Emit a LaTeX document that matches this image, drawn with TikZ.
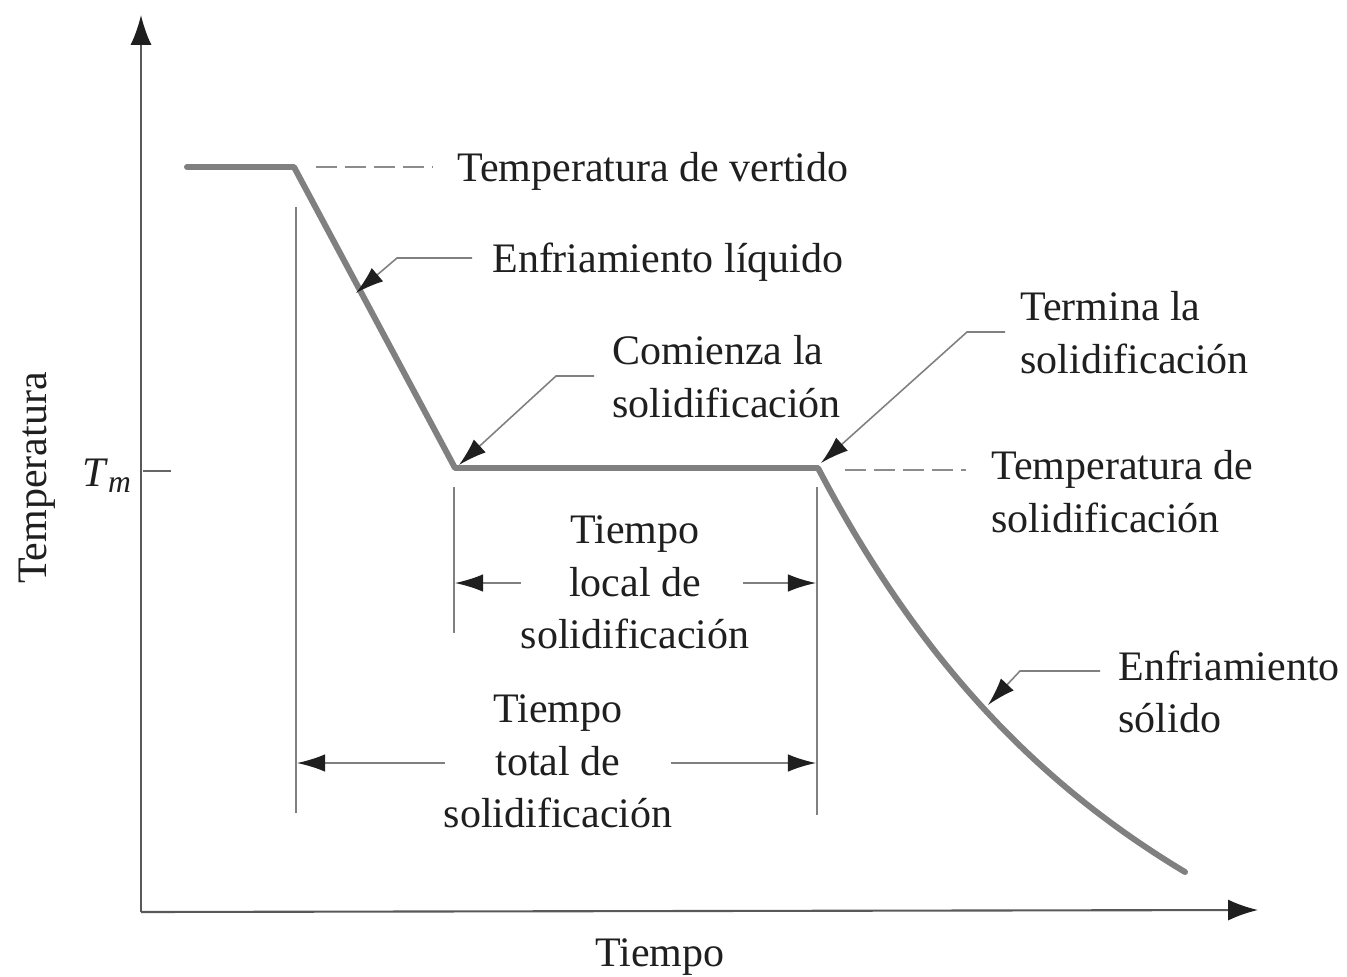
\documentclass[tikz,border=0pt]{standalone}
\usepackage{fontspec}
\setmainfont{Liberation Serif}
\usetikzlibrary{arrows.meta}
\begin{document}
\begin{tikzpicture}[x=0.02cm,y=-0.02cm,
  lbl/.style={inner sep=0pt, font=\fontsize{23.9}{29.6}\selectfont, text=black!88},
  curve/.style={line width=3.4pt, draw=black!50, line cap=round, line join=round},
  thin/.style={line width=0.9pt, draw=black!50},
  dsh/.style={thin, draw=black!45, dash pattern=on 12pt off 4.5pt},
  lead/.style={thin, -{Latex[length=16pt,width=10pt,color=black!88]}},
  dim/.style={thin, -{Latex[length=16pt,width=10pt,color=black!88]}},
  axis/.style={line width=1.2pt, draw=black!65, -{Latex[length=17pt,width=12pt,color=black!88]}},
]
\useasboundingbox (0,0) rectangle (1347,977);

% axes
\coordinate (O) at (141,912);
\coordinate (Ytop) at (141,15);
\coordinate (Xend) at (1258,910);
\draw[axis] (O) -- (Ytop);
\draw[axis] (O) -- (Xend);
\coordinate (tmA) at (143,471);
\coordinate (tmB) at (171,471);
\draw[line width=1.1pt, draw=black!60] (tmA) -- (tmB);

\node[lbl, rotate=90, anchor=base] (ylab) at (47,478) {Temperatura};
\node[lbl, anchor=base] (xlab) at (660,966) {Tiempo};
\node[lbl, anchor=base west] (tm) at (82,486) {\textit{T}\raisebox{-0.35ex}{\fontsize{18}{18}\selectfont\textit{m}}};

% cooling curve
\coordinate (c0) at (187,167);
\coordinate (c1) at (294,167);
\coordinate (c2) at (455,468);
\coordinate (c3) at (818,468);
\coordinate (c4) at (1185,872);
\draw[curve] (c0) -- (c1) -- (c2) -- (c3) .. controls (918,658) and (1035,782) .. (c4);

% dashed reference lines
\coordinate (d1a) at (316,167);
\coordinate (d1b) at (433,167);
\draw[dsh] (d1a) -- (d1b);
\coordinate (d2a) at (845,470);
\coordinate (d2b) at (966,470);
\draw[dsh] (d2a) -- (d2b);

% vertical marker lines
\coordinate (v1a) at (296,207);
\coordinate (v1b) at (296,813);
\coordinate (v2a) at (454,487);
\coordinate (v2b) at (454,633);
\coordinate (v3a) at (817,487);
\coordinate (v3b) at (817,815);
\draw[thin] (v1a) -- (v1b);
\draw[thin] (v2a) -- (v2b);
\draw[thin] (v3a) -- (v3b);

% labels (base anchor of a multi-line node = baseline of its last line)
\node[lbl, anchor=base west] (vert) at (457,181) {Temperatura de vertido};
\node[lbl, anchor=base west] (liq) at (492,272) {Enfriamiento líquido};
\node[lbl, anchor=base west, align=left] (com) at (612,417) {Comienza la\\solidificación};
\node[lbl, anchor=base west, align=left] (ter) at (1020,373) {Termina la\\solidificación};
\node[lbl, anchor=base west, align=left] (tsol) at (991,532) {Temperatura de\\solidificación};
\node[lbl, anchor=base west, align=left] (sol) at (1118,732) {Enfriamiento\\sólido};
\node[lbl, anchor=base, align=center] (loc) at (635,648) {Tiempo\\local de\\solidificación};
\node[lbl, anchor=base, align=center] (tot) at (558,827) {Tiempo\\total de\\solidificación};

% leaders
\coordinate (l1a) at (472,258);
\coordinate (l1b) at (397,258);
\coordinate (l1c) at (356,293);
\draw[lead] (l1a) -- (l1b) -- (l1c);
\coordinate (l2a) at (594,376);
\coordinate (l2b) at (556,376);
\coordinate (l2c) at (459,465);
\draw[lead] (l2a) -- (l2b) -- (l2c);
\coordinate (l3a) at (1005,332);
\coordinate (l3b) at (967,332);
\coordinate (l3c) at (821,463);
\draw[lead] (l3a) -- (l3b) -- (l3c);
\coordinate (l4a) at (1100,671);
\coordinate (l4b) at (1020,671);
\coordinate (l4c) at (988,705);
\draw[lead] (l4a) -- (l4b) -- (l4c);

% dimension arrows
\coordinate (a1s) at (521,583);
\coordinate (a1e) at (455,583);
\coordinate (a2s) at (743,583);
\coordinate (a2e) at (816,583);
\coordinate (a3s) at (445,763);
\coordinate (a3e) at (297,763);
\coordinate (a4s) at (671,763);
\coordinate (a4e) at (816,763);
\draw[dim] (a1s) -- (a1e);
\draw[dim] (a2s) -- (a2e);
\draw[dim] (a3s) -- (a3e);
\draw[dim] (a4s) -- (a4e);
\end{tikzpicture}
\end{document}
